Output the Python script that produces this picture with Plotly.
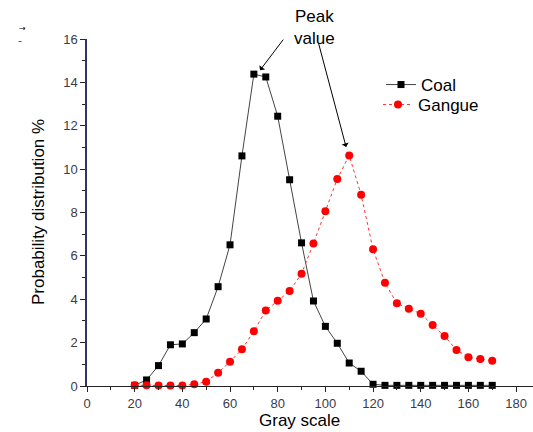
import plotly.graph_objects as go

gray_scale = [20, 25, 30, 35, 40, 45, 50, 55, 60, 65, 70, 75, 80, 85, 90, 95, 100,
              105, 110, 115, 120, 125, 130, 135, 140, 145, 150, 155, 160, 165, 170]
coal = [0.03, 0.28, 0.94, 1.90, 1.94, 2.46, 3.09, 4.58, 6.51, 10.61, 14.38, 14.25,
        12.44, 9.51, 6.60, 3.92, 2.75, 1.97, 1.06, 0.68, 0.08, 0.03, 0.03, 0.03,
        0.03, 0.03, 0.03, 0.03, 0.03, 0.03, 0.03]
gangue = [0.03, 0.03, 0.02, 0.02, 0.02, 0.08, 0.20, 0.61, 1.12, 1.69, 2.53, 3.48,
          3.93, 4.38, 5.18, 6.57, 8.06, 9.55, 10.63, 8.82, 6.30, 4.76, 3.81, 3.56,
          3.33, 2.81, 2.30, 1.66, 1.32, 1.24, 1.17]

x_ticks = [0, 20, 40, 60, 80, 100, 120, 140, 160, 180]
y_ticks = [0, 2, 4, 6, 8, 10, 12, 14, 16]

L, R, T, B = 87, 0, 39, 46
W, H = 533, 432
PW, PH = W - L - R, H - T - B


def px(xp):
    return (xp - L) / PW


def py(yp):
    return (H - B - yp) / PH


fig = go.Figure()
fig.add_trace(go.Scatter(
    x=gray_scale, y=coal, name="Coal", mode="lines+markers",
    line=dict(color="#444444", width=1),
    marker=dict(symbol="square", size=7, color="black"),
    cliponaxis=False, legend="legend",
))
fig.add_trace(go.Scatter(
    x=gray_scale, y=gangue, name="Gangue", mode="lines+markers",
    line=dict(color="#ff3333", width=1, dash="dot"),
    marker=dict(symbol="circle", size=8, color="#ff0000"),
    cliponaxis=False, legend="legend2",
))

font = "Arial, Liberation Sans, sans-serif"
leg_common = dict(xanchor="left", yanchor="middle",
                  font=dict(size=17, family=font, color="black"),
                  bgcolor="rgba(0,0,0,0)", itemwidth=30,
                  borderwidth=0)
fig.update_layout(
    width=W, height=H,
    margin=dict(l=L, r=R, t=T, b=B),
    paper_bgcolor="white", plot_bgcolor="white",
    font=dict(family=font, color="#000000"),
    showlegend=True,
    legend=dict(x=px(381), y=py(85), **leg_common),
    legend2=dict(x=px(378), y=py(105), **leg_common),
    xaxis=dict(range=[0, 187.1], tickvals=x_ticks, ticks="outside", ticklen=5,
               tickcolor="#222222", showline=True, linecolor="#222222", linewidth=1,
               showgrid=False, zeroline=False,
               tickfont=dict(size=13, color="#3c3c48", family=font),
               minor=dict(dtick=10, ticks="outside", ticklen=3, tickcolor="#222222")),
    yaxis=dict(range=[0, 16], tickvals=y_ticks, ticks="outside", ticklen=5,
               tickcolor="#222222", showline=True, linecolor="#33336b", linewidth=1.5,
               showgrid=False, zeroline=False,
               tickfont=dict(size=13, color="#3c3c48", family=font),
               minor=dict(dtick=1, ticks="outside", ticklen=3, tickcolor="#222222")),
)

fig.add_annotation(x=72.6, y=14.56, ax=82.8, ay=16.04, axref="x", ayref="y",
                   xref="x", yref="y", text="", showarrow=True, arrowhead=1,
                   arrowsize=1.2, arrowwidth=1, arrowcolor="black")
fig.add_annotation(x=108.7, y=11.02, ax=97.0, ay=15.86, axref="x", ayref="y",
                   xref="x", yref="y", text="", showarrow=True, arrowhead=1,
                   arrowsize=1.2, arrowwidth=1, arrowcolor="black")
fig.add_annotation(x=px(314), y=py(27), xref="paper", yref="paper", text="Peak<br>value",
                   showarrow=False, xanchor="center", yanchor="middle",
                   font=dict(size=17, family=font, color="black"))
fig.add_annotation(x=px(299), y=py(420), xref="paper", yref="paper", text="Gray scale",
                   showarrow=False, xanchor="center", yanchor="middle",
                   font=dict(size=17, family=font, color="black"))
fig.add_annotation(x=px(38), y=py(212), xref="paper", yref="paper",
                   text="Probability distribution %", textangle=-90, showarrow=False,
                   xanchor="center", yanchor="middle",
                   font=dict(size=17, family=font, color="black"))
fig.add_annotation(x=px(17), y=py(29), xref="paper", yref="paper",
                   text="→", showarrow=False, yanchor="middle",
                   font=dict(size=8, color="black", family="DejaVu Sans"))
fig.add_annotation(x=px(16), y=py(41), xref="paper", yref="paper",
                   text="–", showarrow=False, yanchor="middle",
                   font=dict(size=8, color="black", family="DejaVu Sans"))

fig.write_html("out.html", config={"displayModeBar": False},
               post_script="document.body.style.margin='0px';")
